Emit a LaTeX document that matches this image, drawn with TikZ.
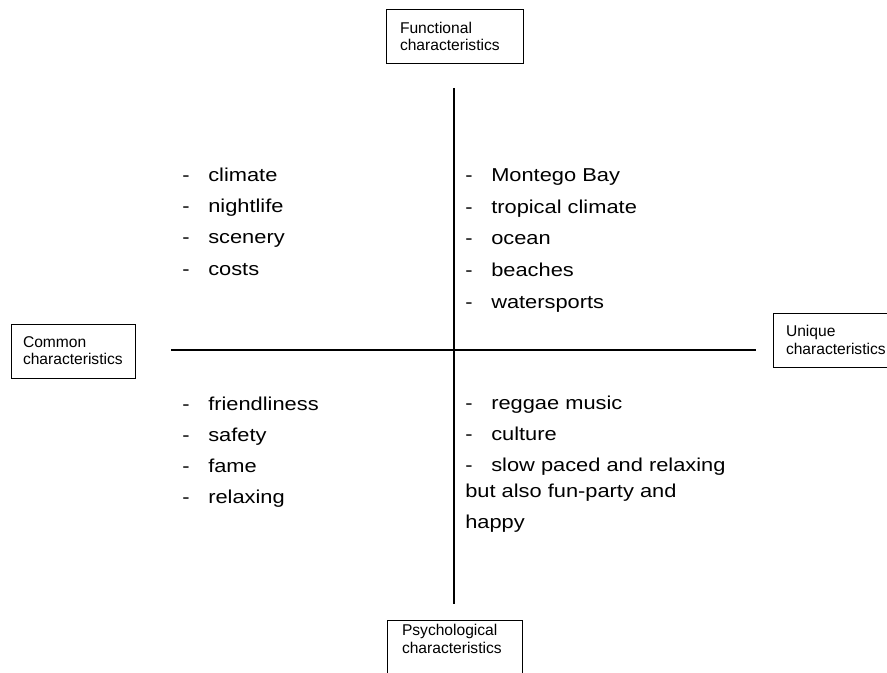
\documentclass[tikz,border=0pt]{standalone}
\usepackage{fontspec}
\setmainfont{Liberation Sans}
\newfontfamily\itemfont{Liberation Sans}[FakeStretch=1.17]
\usetikzlibrary{positioning}

\begin{document}
\begin{tikzpicture}[
    x=0.75pt, y=-0.75pt,
    axis/.style={draw, line width=1.1pt},
    dimension/.style={draw, line width=0.75pt, align=left, inner ysep=0pt,
        minimum height=40.5pt, font=\fontsize{11.7}{12.9}\selectfont},
    entry/.style={anchor=base west, inner sep=0pt, font=\itemfont\fontsize{14}{16}\selectfont},
    bullet/.style={entry}
]
    \path[use as bounding box, clip] (0,0) rectangle (887,673);

    % Axis ends
    \coordinate (func end)   at (454,88);
    \coordinate (psych end)  at (454,604);
    \coordinate (common end) at (171,350);
    \coordinate (unique end) at (756,350);

    % Dimension boxes
    \node [dimension, text width=81.75pt, inner xsep=10.5pt] (functional) at (454.5,36.5)
        {Functional\\characteristics};
    \node [dimension, text width=75pt, inner xsep=9pt] (common) at (73,351)
        {Common\\characteristics};
    \node [dimension, text width=75pt, inner xsep=9.75pt] (unique) at (836,340)
        {Unique\\characteristics};
    \node [dimension, text width=78.75pt, inner xsep=11.25pt, inner ysep=3pt,
        minimum height=0pt, text depth=30pt, anchor=north] (psychological) at (454.5,620)
        {Psychological\\characteristics};

    % Draw axes
    \path [axis] (func end) -- (psych end);
    \path [axis] (common end) -- (unique end);

    % Quadrant lists
    \foreach \txt [count=\i from 0] in {climate, nightlife, scenery, costs}
        \node [bullet] (common func \i) at (182,181.5+31.2*\i) {\makebox[19.5pt][l]{-}\txt};
    \foreach \txt [count=\i from 0] in {Montego Bay, tropical climate, ocean, beaches, watersports}
        \node [bullet] (unique func \i) at (465,182+31.5*\i) {\makebox[19.5pt][l]{-}\txt};
    \foreach \txt [count=\i from 0] in {friendliness, safety, fame, relaxing}
        \node [bullet] (common psych \i) at (182,410+31*\i) {\makebox[19.5pt][l]{-}\txt};
    \foreach \txt [count=\i from 0] in {reggae music, culture, slow paced and relaxing}
        \node [bullet] (unique psych \i) at (465,409+31*\i) {\makebox[19.5pt][l]{-}\txt};
    \node [entry] (unique psych 3) at (465,497) {but also fun-party and};
    \node [entry] (unique psych 4) at (465,528) {happy};
\end{tikzpicture}
\end{document}
